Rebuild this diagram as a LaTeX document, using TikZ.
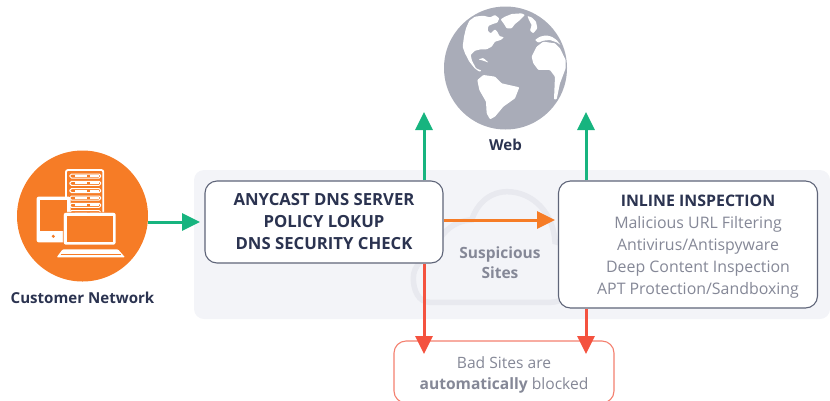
\documentclass[tikz,border=0pt]{standalone}
\usepackage{fontspec}
\setmainfont{Open Sans}
\usetikzlibrary{arrows.meta}
\definecolor{inkdark}{HTML}{2B3350}
\definecolor{inkgrey}{HTML}{858897}
\definecolor{edgegrey}{HTML}{5F6579}
\definecolor{panelgrey}{HTML}{F3F4F8}
\definecolor{cloudgrey}{HTML}{E8E9EF}
\definecolor{globegrey}{HTML}{A9ACB8}
\definecolor{okgreen}{HTML}{17B47F}
\definecolor{warnorange}{HTML}{F67C26}
\definecolor{badred}{HTML}{F4523F}
\definecolor{badedge}{HTML}{F4806F}
\tikzset{
	wline/.style={line width=3pt,-{Triangle[length=18pt,width=17pt]}},
	infobox/.style={draw=edgegrey,fill=white,line width=1.1pt,rounded corners=12pt,inner sep=0pt,align=center},
	mainfont/.style={font=\fontsize{15.9}{22}\selectfont},
	title/.style={font=\fontsize{16.7}{22}\selectfont\bfseries,text=inkdark},
	caption/.style={font=\fontsize{15.1}{18}\selectfont\bfseries,text=inkdark},
	land/.style={fill=white,rounded corners=.8pt},
}
\begin{document}
\begin{tikzpicture}[x=1pt,y=-1pt]
	\useasboundingbox (0,0) rectangle (830,400);
	\fill[panelgrey,rounded corners=10pt] (194,170) rectangle (830,319);
	% cloud behind the boxes
	\begin{scope}[shift={(380,170)},x=.3333pt,y=-.3333pt]
		\draw[cloudgrey,line width=5.5pt] (150,397) .. controls (115,397) and (100,360) .. (100,325) .. controls (100,285) and (130,262) .. (170,250) .. controls (165,200) and (220,150) .. (275,150) .. controls (295,90) and (340,65) .. (380,65) .. controls (460,65) and (520,130) .. (525,215) .. controls (570,225) and (592,260) .. (592,300) .. controls (592,355) and (560,397) .. (510,397) -- cycle;
	\end{scope}
	% customer network
	\node[circle,fill=warnorange,minimum size=131pt,inner sep=0pt] (custnet) at (82.5,216) {};
	\begin{scope}[shift={(30,165)},x=.3333pt,y=-.3333pt]
		\draw[white,line width=1.8pt,rounded corners=2pt] (108,160) -- (108,15) -- (220,15) -- (220,160);
		\foreach \y in {33,55,77,99,121,143} {
			\draw[white,line width=1pt,rounded corners=1.5pt] (120,\y-6) rectangle (212,\y+6);
			\fill[white] (135,\y-3) rectangle (170,\y+3);
			\fill[white] (180,\y-3) rectangle (208,\y+3);
		}
		\fill[white,rounded corners=2pt] (20,95) rectangle (122,232);
		\fill[warnorange] (30,105) rectangle (112,197);
		\fill[warnorange] (70,214) circle (5);
		\fill[white,rounded corners=2pt,draw=warnorange,line width=.8pt] (100,142) rectangle (258,240);
		\fill[warnorange] (112,152) rectangle (248,232);
		\fill[white,rounded corners=1pt] (80,277) -- (98,253) -- (264,253) -- (285,277) -- cycle;
		\draw[warnorange,line width=.8pt] (92,267) -- (272,267);
	\end{scope}
	\node[caption] (custlabel) at (82.5,298) {Customer Network};
	% globe
	\node[circle,fill=globegrey,minimum size=123pt,inner sep=0pt] (globe) at (505.5,68) {};
	\begin{scope}[shift={(440,0)},x=.3333pt,y=-.3333pt]
		\path[land] (88,62) -- (105,50) -- (130,47) -- (150,52) -- (165,45) -- (178,55) -- (172,68) -- (158,72) -- (145,78) -- (143,92) -- (152,100) -- (165,88) -- (172,95) -- (178,108) -- (192,112) -- (182,120) -- (165,125) -- (155,140) -- (140,148) -- (122,148) -- (105,152) -- (92,165) -- (96,182) -- (108,205) -- (125,212) -- (118,215) -- (104,205) -- (88,185) -- (75,160) -- (68,140) -- (72,110) -- (78,85) -- cycle;
		\path[land] (182,58) -- (195,50) -- (215,42) -- (245,40) -- (255,45) -- (240,60) -- (225,72) -- (215,85) -- (200,85) -- (192,72) -- cycle;
		\path[land] (262,48) -- (275,52) -- (288,65) -- (292,85) -- (280,100) -- (270,92) -- (275,75) -- (268,62) -- cycle;
		\path[land] (285,120) -- (300,110) -- (318,106) -- (335,110) -- (350,120) -- (362,135) -- (350,127) -- (330,120) -- (310,122) -- (295,128) -- cycle;
		\path[land] (112,240) -- (130,225) -- (165,230) -- (185,250) -- (238,262) -- (225,295) -- (190,320) -- (165,350) -- (150,358) -- (140,340) -- (138,305) -- (118,270) -- cycle;
		\path[land] (275,170) -- (290,140) -- (310,125) -- (345,130) -- (360,145) -- (377,180) -- (377,205) -- (360,250) -- (350,298) -- (342,298) -- (345,230) -- (330,210) -- (295,210) -- (280,190) -- cycle;
		\path[land] (115,178) -- (130,174) -- (146,188) -- (130,182) -- cycle;
	\end{scope}
	\node[caption] (weblabel) at (505.5,145) {Web};
	% free ends of the arrows
	\coordinate (dnsin) at (200,222);
	\coordinate (upa) at (424,112);
	\coordinate (upb) at (586,112);
	\coordinate (inspin) at (555,220);
	\coordinate (badin) at (504,354);
	% boxes
	\node[infobox,draw=badedge,minimum width=220pt,minimum height=62pt] (badbox) at (504,372) {};
	\node[infobox,minimum width=238pt,minimum height=82pt,title] (dnsbox) at (324,222) {ANYCAST DNS SERVER\\POLICY LOKUP\\DNS SECURITY CHECK};
	\node[infobox,minimum width=259pt,minimum height=127pt] (inspbox) at (688,244.5) {};
	\node[align=center,mainfont,text=inkgrey] (insptext) at (698,247) {{\color{inkdark}\bfseries INLINE INSPECTION}\\Malicious URL Filtering\\Antivirus/Antispyware\\Deep Content Inspection\\APT Protection/Sandboxing};
	\node[align=center,font=\fontsize{15.5}{20}\selectfont\bfseries,text=inkgrey] (susp) at (500,263) {Suspicious\\Sites};
	\node[align=center,font=\fontsize{15.6}{21}\selectfont,text=inkgrey] (badtext) at (504,375) {Bad Sites are\\{\bfseries automatically} blocked};
	% arrows
	\draw[wline,okgreen] (custnet.east |- dnsin) -- (dnsin);
	\draw[wline,okgreen] (dnsbox.north -| upa) -- (upa);
	\draw[wline,okgreen] (inspbox.north -| upb) -- (upb);
	\draw[wline,warnorange] (dnsbox.east |- inspin) -- (inspin);
	\draw[wline,badred] (dnsbox.south -| upa) -- (upa |- badin);
	\draw[wline,badred] (inspbox.south -| upb) -- (upb |- badin);
\end{tikzpicture}
\end{document}
